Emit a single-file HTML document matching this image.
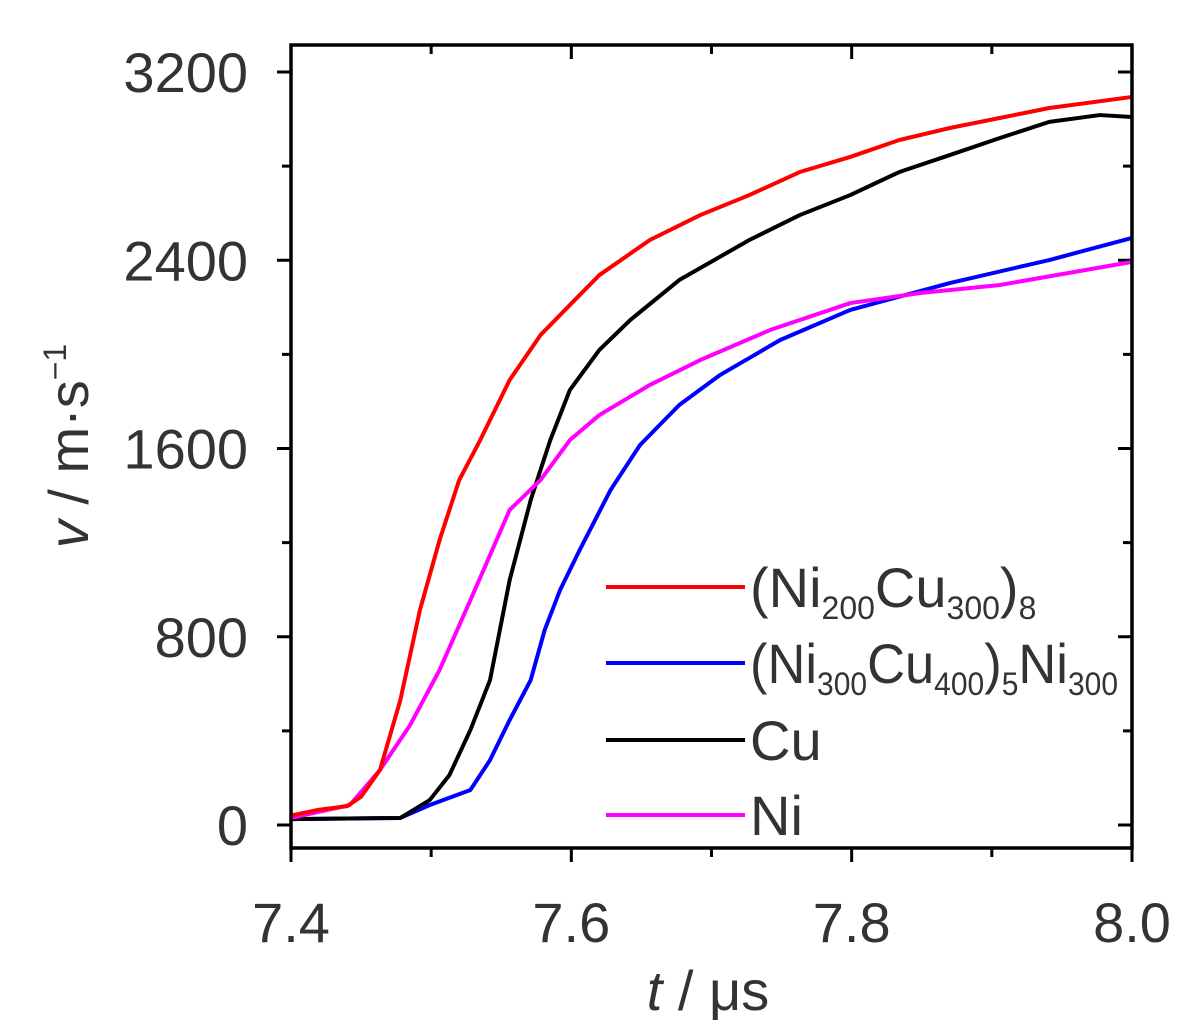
<!DOCTYPE html>
<html><head><meta charset="utf-8"><style>
body{margin:0;background:#fff;}
svg text{font-family:"Liberation Sans",sans-serif;fill:#333;}
</style></head><body>
<svg width="1181" height="1020" xmlns="http://www.w3.org/2000/svg">
<g id="axes"></g>
<g id="series"></g>
<rect x="291" y="45" width="841" height="803" fill="none" stroke="#000" stroke-width="3.5"/>
<text x="708" y="1010" font-size="56" text-anchor="middle"><tspan font-style="italic">t</tspan> / μs</text>
<text transform="translate(88,446) rotate(-90)" font-size="56" text-anchor="middle"><tspan font-style="italic">v</tspan> / m·s<tspan font-size="32" dy="-22">−1</tspan></text>
<g id="legend"></g>
</svg>
<script>
const names=["(Ni200Cu300)8","(Ni300Cu400)5Ni300","Cu","Ni"];
const colors=["#ff0000","#0000ff","#000000","#ff00ff"];
const xTicks=[7.4,7.6,7.8,8.0];
const yTicks=[0,800,1600,2400,3200];
const redT=[7.40,7.42,7.44,7.45,7.4635,7.478,7.492,7.506,7.52,7.535,7.556,7.578,7.599,7.62,7.656,7.692,7.727,7.763,7.799,7.834,7.87,7.906,7.941,8.0];
const redV=[40,65,80,120,234,531,914,1211,1466,1636,1891,2082,2210,2337,2486,2592,2677,2775,2839,2911,2962,3005,3047,3094];
const blueT=[7.40,7.478,7.499,7.528,7.542,7.556,7.571,7.581,7.592,7.606,7.628,7.649,7.677,7.706,7.749,7.799,7.87,7.941,8.0];
const blueV=[25,30,85,149,276,446,616,829,999,1169,1424,1615,1785,1912,2061,2189,2303,2401,2495];
const blackT=[7.40,7.478,7.499,7.513,7.528,7.542,7.556,7.571,7.585,7.599,7.62,7.642,7.677,7.727,7.763,7.799,7.834,7.87,7.906,7.941,7.977,8.0];
const blackV=[25,30,106,212,404,616,1041,1381,1636,1849,2019,2146,2316,2486,2592,2677,2775,2847,2920,2988,3017,3009];
const niT=[7.40,7.442,7.4635,7.485,7.506,7.528,7.542,7.556,7.578,7.599,7.62,7.656,7.692,7.742,7.799,7.849,7.906,8.0];
const niV=[30,85,234,425,659,956,1147,1339,1466,1636,1742,1870,1976,2104,2218,2261,2295,2393];
const X=t=>291+(t-7.4)*841/0.6;
const Y=v=>825-v*753/3200;
const NS="http://www.w3.org/2000/svg";
function mk(tag,attrs,parent){const e=document.createElementNS(NS,tag);for(const k in attrs)e.setAttribute(k,attrs[k]);parent.appendChild(e);return e;}
const ax=document.getElementById('axes');
for(let i=0;i<=6;i++){const t=7.4+i*0.1;const x=X(t);const len=i%2==0?14:9;
 const l=mk('line',{x1:x,x2:x,y1:848,y2:848+len,stroke:'#000','stroke-width':3},ax);
 
 
 const l2=mk('line',{x1:x,x2:x,y1:45,y2:45+len,stroke:'#000','stroke-width':3},ax);
 
 }
xTicks.forEach(t=>{const e=mk('text',{x:X(t),y:942,'font-size':56,'text-anchor':'middle'},ax);e.textContent=t.toFixed(1);
 
 });
for(let v=0;v<=3200;v+=400){const y=Y(v);const len=v%800==0?14:9;
 const l=mk('line',{x1:291-len,x2:291,y1:y,y2:y,stroke:'#000','stroke-width':3},ax);
 
 
 const l2=mk('line',{x1:1132-len,x2:1132,y1:y,y2:y,stroke:'#000','stroke-width':3},ax);
 
 }
yTicks.forEach(v=>{const e=mk('text',{x:248,y:Y(v)+20,'font-size':56,'text-anchor':'end'},ax);e.textContent=v;
 
 });
const sg=document.getElementById('series');
const data=[[redT,redV],[blueT,blueV],[blackT,blackV],[niT,niV]];
const order=[1,2,3,0];
order.forEach(i=>{const [T,V]=data[i];
 const p=mk('polyline',{points:T.map((t,j)=>X(t)+','+Y(V[j])).join(' '),fill:'none',stroke:colors[i],'stroke-width':4,'stroke-linejoin':'round'},sg);
 
 });
const lg=document.getElementById('legend');
const labels=['(Ni<tspan font-size="32" dy="12">200</tspan><tspan dy="-12">Cu</tspan><tspan font-size="32" dy="12">300</tspan><tspan dy="-12">)</tspan><tspan font-size="32" dy="12">8</tspan>',
 '(Ni<tspan font-size="32" dy="12">300</tspan><tspan dy="-12">Cu</tspan><tspan font-size="32" dy="12">400</tspan><tspan dy="-12">)</tspan><tspan font-size="32" dy="12">5</tspan><tspan dy="-12">Ni</tspan><tspan font-size="32" dy="12">300</tspan>',
 'Cu','Ni'];
const ly=[587,663,740,815];
names.forEach((n,i)=>{
 const l=mk('line',{x1:606,x2:745,y1:ly[i],y2:ly[i],stroke:colors[i],'stroke-width':4},lg);
 
 
 const t=mk('text',{x:750,y:ly[i]+20,'font-size':56},lg);t.innerHTML=labels[i];
 if(i==1){t.setAttribute('textLength','368');t.setAttribute('lengthAdjust','spacingAndGlyphs');}
 
 });
</script>
</body></html>
